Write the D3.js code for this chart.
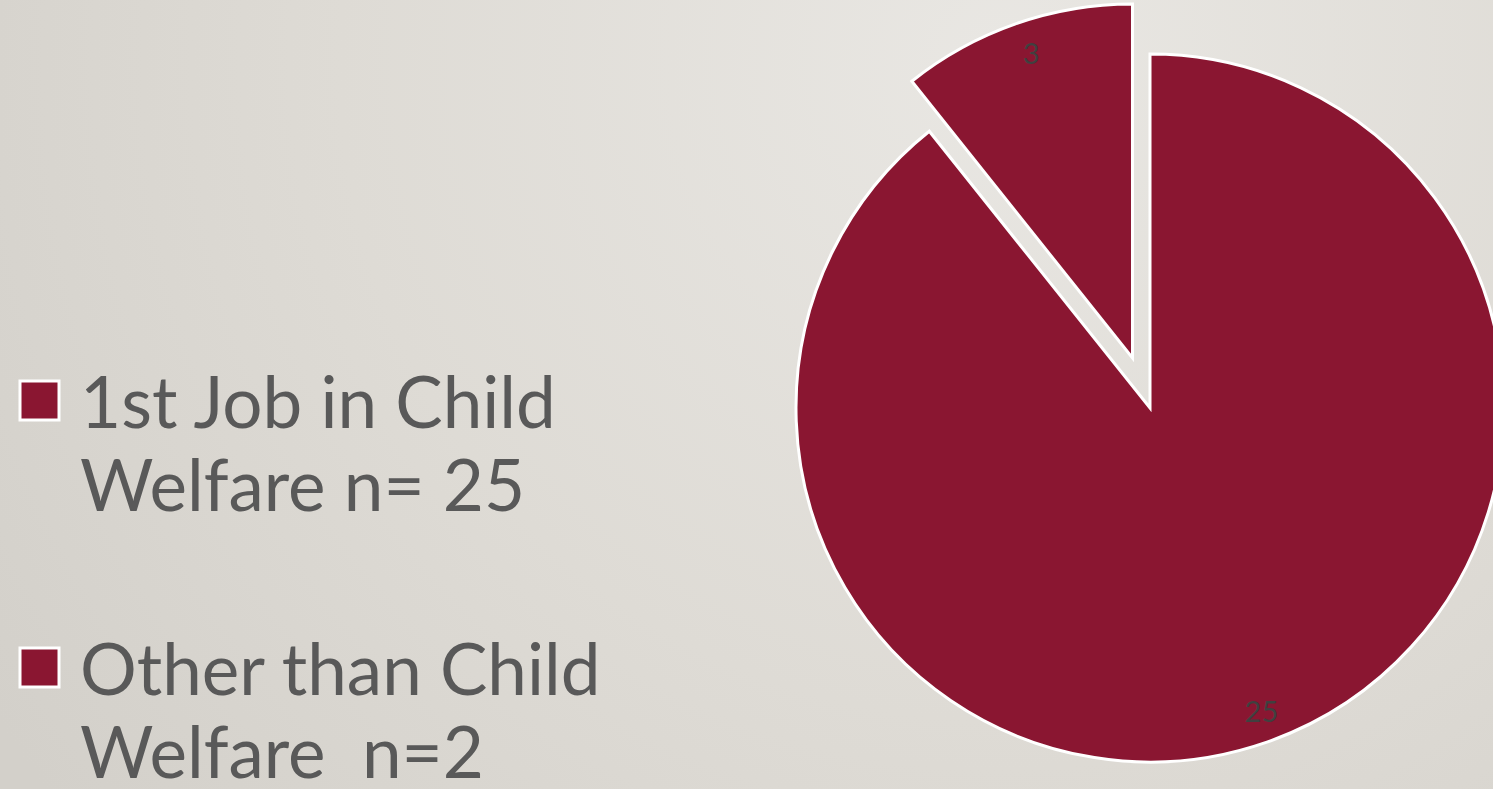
<!DOCTYPE html>
<html>
<head>
<meta charset="utf-8">
<script src="https://cdn.jsdelivr.net/npm/d3@7"></script>
<style>
  html, body { margin: 0; padding: 0; overflow: hidden; }
</style>
</head>
<body>
<svg></svg>
<script>
const categories = ['1st Job in Child Welfare', 'Other than Child Welfare'];
const values = [25, 3];
const legendLines = [
    ['1st Job in Child', 'Welfare n= 25'],
    ['Other than Child', 'Welfare  n=2']
];

const svgWidth = 1493;
const svgHeight = 789;
const sliceColor = '#8a1631';

const svg = d3.select('svg')
    .attr('width', svgWidth)
    .attr('height', svgHeight);

const defs = svg.append('defs');
const bg = defs.append('radialGradient')
    .attr('id', 'bg')
    .attr('gradientUnits', 'userSpaceOnUse')
    .attr('cx', 1000).attr('cy', 60).attr('r', 1200);
bg.append('stop').attr('offset', '0%').attr('stop-color', '#e9e7e3');
bg.append('stop').attr('offset', '55%').attr('stop-color', '#dedbd5');
bg.append('stop').attr('offset', '100%').attr('stop-color', '#d3d0ca');

svg.append('rect')
    .attr('width', svgWidth)
    .attr('height', svgHeight)
    .attr('fill', 'url(#bg)');

// pie
const cx = 1150, cy = 408, radius = 354;
const pie = d3.pie().sort(null).value(d => d);
const arcs = pie(values);
const arc = d3.arc().innerRadius(0).outerRadius(radius);
const labelArc = d3.arc().innerRadius(radius * 0.91).outerRadius(radius * 0.91);
const explode = [0, 53];

const g = svg.append('g').attr('transform', `translate(${cx}, ${cy})`);

const slices = g.selectAll('g.slice')
    .data(arcs)
    .enter()
    .append('g')
    .attr('class', 'slice')
    .attr('transform', (d, i) => {
        const mid = (d.startAngle + d.endAngle) / 2;
        return `translate(${Math.sin(mid) * explode[i]}, ${-Math.cos(mid) * explode[i]})`;
    });

slices.append('path')
    .attr('d', arc)
    .attr('fill', sliceColor)
    .attr('stroke', '#ffffff')
    .attr('stroke-width', 3)
    .attr('stroke-linejoin', 'miter');

slices.append('text')
    .attr('transform', d => {
        const c = labelArc.centroid(d);
        return `translate(${c[0] + 5}, ${c[1]})`;
    })
    .attr('text-anchor', 'middle')
    .attr('dy', '0.35em')
    .attr('font-family', 'Lato, sans-serif')
    .attr('font-size', '29px')
    .attr('fill', '#404040')
    .text(d => d.data);

// legend
const legend = svg.append('g');
const legendTop = [428, 695];

legendLines.forEach((lines, i) => {
    legend.append('rect')
        .attr('x', 20)
        .attr('y', legendTop[i] - 47)
        .attr('width', 39)
        .attr('height', 39)
        .attr('fill', sliceColor)
        .attr('stroke', '#ffffff')
        .attr('stroke-width', 3);

    const t = legend.append('text')
        .attr('font-family', 'Lato, sans-serif')
        .attr('font-size', '71px')
        .attr('fill', '#595959')
        .attr('x', 80)
        .attr('y', legendTop[i]);
    t.selectAll('tspan')
        .data(lines)
        .enter()
        .append('tspan')
        .attr('x', 80)
        .attr('dy', (d, j) => j === 0 ? 0 : 83)
        .attr('xml:space', 'preserve')
        .style('white-space', 'pre')
        .text(d => d);
});
</script>
</body>
</html>
